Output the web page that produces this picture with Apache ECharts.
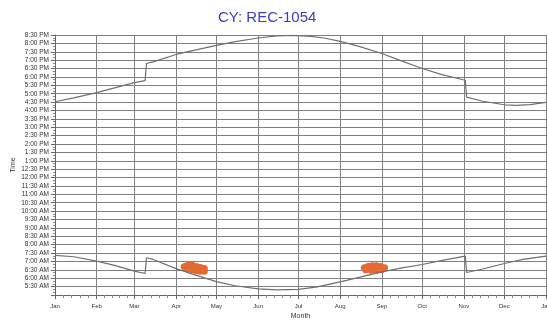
<!DOCTYPE html>
<html>
<head>
<meta charset="utf-8">
<script src="https://cdn.jsdelivr.net/npm/echarts@6/dist/echarts.min.js"></script>
<style>
  html, body { margin: 0; padding: 0; background: #fff; }
  #chart { width: 547px; height: 323px; }
</style>
</head>
<body>
<div id="chart"></div>
<script>
// 月份标签
const monthNames = ['Jan', 'Feb', 'Mar', 'Apr', 'May', 'Jun', 'Jul', 'Aug', 'Sep', 'Oct', 'Nov', 'Dec'];

// 日落时间 (小时, 小数)
const sunsetDates = ['2019-01-01', '2019-01-15', '2019-02-01', '2019-02-15', '2019-03-01', '2019-03-09',
  '2019-03-10', '2019-03-15', '2019-04-01', '2019-04-15', '2019-05-01', '2019-05-15', '2019-06-01',
  '2019-06-15', '2019-06-27', '2019-07-10', '2019-07-20', '2019-08-01', '2019-08-15', '2019-09-01',
  '2019-09-15', '2019-10-01', '2019-10-15', '2019-11-02', '2019-11-03', '2019-11-15', '2019-12-01',
  '2019-12-10', '2019-12-20', '2020-01-01'];
const sunsetHours = [16.52, 16.75, 17.06, 17.36, 17.66, 17.78,
  18.80, 18.90, 19.34, 19.60, 19.88, 20.10, 20.32,
  20.45, 20.48, 20.42, 20.32, 20.12, 19.82, 19.40,
  18.97, 18.50, 18.15, 17.80, 16.80, 16.55, 16.34,
  16.30, 16.35, 16.48];

// 日出时间
const sunriseDates = ['2019-01-01', '2019-01-15', '2019-02-01', '2019-02-15', '2019-03-01', '2019-03-09',
  '2019-03-10', '2019-03-15', '2019-04-01', '2019-04-15', '2019-05-01', '2019-05-15', '2019-06-01',
  '2019-06-15', '2019-07-01', '2019-07-15', '2019-08-01', '2019-08-15', '2019-09-01', '2019-09-15',
  '2019-10-01', '2019-10-15', '2019-11-02', '2019-11-03', '2019-11-15', '2019-12-01', '2019-12-15',
  '2020-01-01'];
const sunriseHours = [7.36, 7.28, 7.02, 6.75, 6.42, 6.28,
  7.22, 7.12, 6.57, 6.20, 5.80, 5.55, 5.36,
  5.30, 5.33, 5.48, 5.78, 6.05, 6.38, 6.60,
  6.82, 7.05, 7.32, 6.34, 6.55, 6.88, 7.12,
  7.32];

// 橙色标记点
const markDates = ['2019-04-07', '2019-04-09', '2019-04-11', '2019-04-13', '2019-04-16', '2019-04-19', '2019-04-22',
  '2019-04-10', '2019-04-13', '2019-04-16', '2019-04-19', '2019-04-22',
  '2019-08-19', '2019-08-22', '2019-08-25', '2019-08-28', '2019-08-31', '2019-09-03',
  '2019-08-20', '2019-08-24', '2019-08-28', '2019-09-01'];
const markHours = [6.68, 6.75, 6.80, 6.78, 6.70, 6.64, 6.58,
  6.55, 6.50, 6.45, 6.42, 6.42,
  6.62, 6.72, 6.75, 6.74, 6.70, 6.62,
  6.50, 6.48, 6.48, 6.52];

function fmtHour(v) {
  let h = Math.floor(v + 1e-6);
  let m = Math.round((v - h) * 60);
  let ap = h >= 12 ? 'PM' : 'AM';
  let hh = h % 12 === 0 ? 12 : h % 12;
  return hh + ':' + (m < 10 ? '0' + m : m) + ' ' + ap;
}

const zip = (a, b) => a.map((d, i) => [d, b[i]]);

const myChart = echarts.init(document.getElementById('chart'));
myChart.setOption({
  animation: false,
  textStyle: { fontFamily: 'Liberation Sans, Arial, sans-serif' },
  title: {
    text: 'CY: REC-1054',
    left: 213,
    top: 5,
    textStyle: { color: '#3a3ad0', fontSize: 15, fontWeight: 'normal' }
  },
  grid: { left: 55, right: 1, top: 35, bottom: 28, outerBoundsMode: 'none', containLabel: false },
  xAxis: {
    type: 'time',
    min: '2019-01-01',
    max: '2020-01-01',
    splitNumber: 12,
    name: 'Month',
    nameLocation: 'middle',
    nameGap: 18,
    nameMoveOverlap: false,
    nameTextStyle: { fontSize: 7, color: '#333' },
    axisLine: { lineStyle: { color: '#666' } },
    axisTick: { lineStyle: { color: '#666' }, length: 4 },
    minorTick: { show: true, splitNumber: 5, length: 3, lineStyle: { color: '#888' } },
    axisLabel: {
      fontSize: 6, color: '#333', margin: 8,
      showMaxLabel: true,
      hideOverlap: false,
      formatter: (v) => monthNames[new Date(v).getMonth()]
    },
    splitLine: { show: true, lineStyle: { color: '#7f7f7f', width: 1 } }
  },
  yAxis: {
    type: 'value',
    min: 5,
    max: 20.5,
    interval: 0.5,
    name: 'Time',
    nameLocation: 'middle',
    nameGap: 38,
    nameMoveOverlap: false,
    nameTextStyle: { fontSize: 7, color: '#333' },
    axisLine: { show: true, lineStyle: { color: '#666' } },
    axisTick: { show: true, length: 4, lineStyle: { color: '#666' } },
    minorTick: { show: true, splitNumber: 3, length: 2, lineStyle: { color: '#888' } },
    axisLabel: {
      fontSize: 6.5, color: '#333', margin: 6,
      showMinLabel: false,
      formatter: fmtHour
    },
    splitLine: { show: true, lineStyle: { color: '#7f7f7f', width: 1 } }
  },
  series: [
    {
      type: 'line',
      data: zip(sunsetDates, sunsetHours),
      showSymbol: false,
      lineStyle: { color: '#707070', width: 1.2 }
    },
    {
      type: 'line',
      data: zip(sunriseDates, sunriseHours),
      showSymbol: false,
      lineStyle: { color: '#707070', width: 1.2 }
    },
    {
      type: 'scatter',
      data: zip(markDates, markHours),
      symbol: 'circle',
      symbolSize: 7,
      itemStyle: { color: '#e46a32', opacity: 1 }
    }
  ]
});
</script>
</body>
</html>
